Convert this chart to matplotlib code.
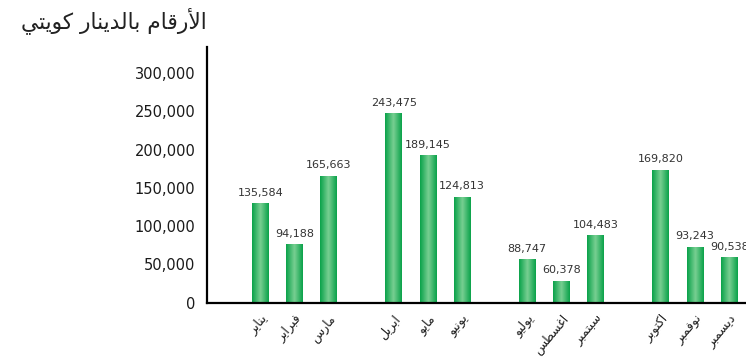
import numpy as np
import matplotlib
matplotlib.use("Agg")
import matplotlib.pyplot as plt
from matplotlib.colors import LinearSegmentedColormap

# values as drawn (bar heights) and the printed labels
months = ["يناير", "فبراير", "مارس", "ابريل", "مايو", "يونيو",
          "يوليو", "اغسطس", "سبتمبر", "اكتوبر", "نوفمبر", "ديسمبر"]
bar_heights = [129900, 76700, 165600, 247600, 193000, 138200,
               56700, 28400, 87600, 173500, 72800, 59700]
bar_labels = ["135,584", "94,188", "165,663", "243,475", "189,145", "124,813",
              "88,747", "60,378", "104,483", "169,820", "93,243", "90,538"]
yticks = [0, 50000, 100000, 150000, 200000, 250000, 300000]
title = "الأرقام بالدينار كويتي"

# minimal arabic shaping (matplotlib has no complex text layout)
FORMS = {
    'ا': ('\uFE8D', '\uFE8E', None, None),
    'أ': ('\uFE83', '\uFE84', None, None),
    'ب': ('\uFE8F', '\uFE90', '\uFE91', '\uFE92'),
    'ت': ('\uFE95', '\uFE96', '\uFE97', '\uFE98'),
    'د': ('\uFEA9', '\uFEAA', None, None),
    'ر': ('\uFEAD', '\uFEAE', None, None),
    'س': ('\uFEB1', '\uFEB2', '\uFEB3', '\uFEB4'),
    'ط': ('\uFEC1', '\uFEC2', '\uFEC3', '\uFEC4'),
    'غ': ('\uFECD', '\uFECE', '\uFECF', '\uFED0'),
    'ف': ('\uFED1', '\uFED2', '\uFED3', '\uFED4'),
    'ق': ('\uFED5', '\uFED6', '\uFED7', '\uFED8'),
    'ك': ('\uFED9', '\uFEDA', '\uFEDB', '\uFEDC'),
    'ل': ('\uFEDD', '\uFEDE', '\uFEDF', '\uFEE0'),
    'م': ('\uFEE1', '\uFEE2', '\uFEE3', '\uFEE4'),
    'ن': ('\uFEE5', '\uFEE6', '\uFEE7', '\uFEE8'),
    'و': ('\uFEED', '\uFEEE', None, None),
    'ي': ('\uFEF1', '\uFEF2', '\uFEF3', '\uFEF4'),
    'لا': ('\uFEFB', '\uFEFC', None, None),
    'لأ': ('\uFEF7', '\uFEF8', None, None),
}

def shape(txt):
    toks = []
    i = 0
    while i < len(txt):
        if txt[i] == 'ل' and i + 1 < len(txt) and txt[i + 1] in 'اأ':
            toks.append(txt[i:i + 2])
            i += 2
        else:
            toks.append(txt[i])
            i += 1
    out = []
    for k, t in enumerate(toks):
        if t not in FORMS:
            out.append(t)
            continue
        f = FORMS[t]
        prev = toks[k - 1] if k > 0 else None
        nxt = toks[k + 1] if k + 1 < len(toks) else None
        jp = prev in FORMS and FORMS[prev][2] is not None
        jn = f[2] is not None and nxt in FORMS
        if jp and jn:
            out.append(f[3])
        elif jp:
            out.append(f[1])
        elif jn:
            out.append(f[2])
        else:
            out.append(f[0])
    return ''.join(out)[::-1]

plt.rcParams['font.family'] = ['DejaVu Sans']

x = np.array([i + 0.9 * (i // 3) for i in range(len(months))])
w = 0.49

fig = plt.figure(figsize=(7.46, 3.6), dpi=100)
ax = fig.add_axes([0.277, 0.159, 0.7417, 0.710])

bars = ax.bar(x, bar_heights, width=w, color='none', edgecolor='none')

cmap = LinearSegmentedColormap.from_list('g', ['#0aa24a', '#78cf92', '#0aa24a'])
grad = np.linspace(0, 1, 64).reshape(1, -1)
for b in bars:
    x0, h = b.get_x(), b.get_height()
    ax.imshow(grad, extent=[x0, x0 + b.get_width(), 0, h], aspect='auto',
              cmap=cmap, interpolation='bilinear', zorder=2)

for xi, h, lab in zip(x, bar_heights, bar_labels):
    ax.annotate(lab, (xi, h), xytext=(0, 4), textcoords='offset points',
                ha='center', va='bottom', fontsize=8, color='#333333')

ax.set_xlim(-1.57, 14.6)
ax.set_ylim(0, 334000)
ax.set_yticks(yticks)
ax.set_yticklabels([f"{v:,}" for v in yticks], fontsize=10.5, color='#1a1a1a')
ax.set_xticks(x)
ax.set_xticklabels([shape(m) for m in months], rotation=50, ha='right',
                   va='top', rotation_mode='anchor', fontsize=9, color='#222222')
ax.tick_params(axis='y', length=0, pad=8)
ax.tick_params(axis='x', length=0, pad=7)
for s in ['top', 'right']:
    ax.spines[s].set_visible(False)
for s in ['left', 'bottom']:
    ax.spines[s].set_linewidth(1.6)
    ax.spines[s].set_color('black')

fig.text(207 / 746, 1 - 21 / 360, shape(title), ha='right', va='center',
         fontsize=15.7, color='#222222')

fig.savefig("out.png", dpi=100)
